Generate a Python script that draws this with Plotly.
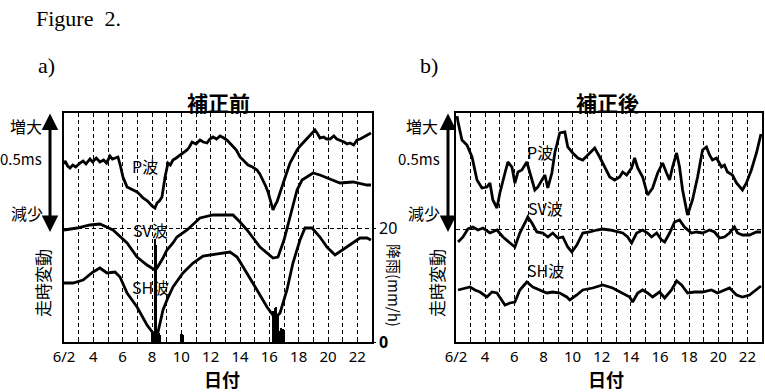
import plotly.graph_objects as go

# ---------------- data (days in June, relative travel-time change; rainfall mm/h) -------------
# Panel a) 補正前
pa_day = [2.0, 2.07, 2.25, 2.41, 2.6, 2.8, 3.09, 3.3, 3.5, 3.77, 3.95, 4.2, 4.45, 4.7, 4.9, 5.14, 5.3,
          5.48, 5.68, 5.85, 6.02, 6.3, 6.6, 6.98, 7.2, 7.39, 7.7, 8.0, 8.2, 8.34, 8.5, 8.68, 8.89,
          9.09, 9.25, 9.43, 9.65, 9.91, 10.15, 10.39, 10.55, 10.73, 11.0, 11.27, 11.5, 11.75, 11.95,
          12.16, 12.4, 12.64, 12.9, 13.11, 13.3, 13.52, 13.75, 14.0, 14.3, 14.55, 14.85, 15.16, 15.35,
          15.57, 15.75, 15.91, 16.1, 16.25, 16.4, 16.52, 16.7, 16.93, 17.2, 17.41, 17.65, 17.89, 18.1,
          18.3, 18.55, 18.77, 18.95, 19.11, 19.3, 19.45, 19.7, 19.9, 20.14, 20.4, 20.6, 20.82, 21.1,
          21.3, 21.5, 21.75, 21.98, 22.2, 22.45, 22.66, 22.93]
pa_val = [178, 181, 176, 174, 177, 175, 179, 181, 178, 183, 180, 184, 180, 182, 179, 186, 183,
          184, 185, 176, 165, 155, 153, 150, 147, 144, 141, 136, 134, 139, 141, 145, 165,
          179, 177, 182, 184, 187, 189, 192, 195, 200, 198, 202, 200, 199, 203,
          205, 203, 206, 204, 202, 199, 195, 192, 185, 181, 177, 175, 172, 168,
          162, 156, 150, 141, 132, 137, 140, 148, 159, 170, 179, 186, 192, 196,
          199, 203, 207, 209, 212, 208, 204, 205, 203, 203, 206, 203, 202, 200,
          198, 199, 197, 202, 203, 205, 207, 209]

sva_day = [2.0, 2.89, 3.77, 4.45, 5.34, 5.82, 6.3, 6.98, 7.66, 8.2, 8.34, 8.75, 9.02, 9.43, 9.7,
           10.39, 11.27, 12.16, 13.52, 14.0, 14.48, 15.36, 16.25, 16.59, 17.0, 17.41, 17.89, 18.23,
           18.57, 18.98, 19.45, 19.93, 20.82, 21.7, 22.66, 22.93]
sva_val = [112, 114, 117, 118, 112, 105, 99, 85, 77, 72, 74, 84, 92, 99, 105,
           112, 124, 127, 127, 120, 112, 95, 84, 85, 102, 125, 152, 162,
           165, 169, 167, 164, 159, 160, 157, 157]

sha_day = [2.0, 2.61, 3.3, 3.98, 4.45, 4.93, 5.48, 5.82, 6.3, 6.98, 7.66, 8.07, 8.41, 8.75, 9.02,
           9.43, 10.11, 10.8, 11.48, 12.43, 13.32, 13.8, 14.48, 15.16, 15.84, 16.39, 16.73, 17.2,
           17.61, 18.09, 18.43, 18.91, 19.45, 19.93, 20.48, 21.3, 22.18, 22.66, 22.93]
sha_val = [59, 59, 62, 70, 74, 69, 70, 65, 49, 35, 17, 9, 10, 32, 42,
           55, 69, 79, 86, 88, 90, 85, 69, 52, 35, 24, 29, 52,
           79, 102, 114, 114, 105, 95, 87, 95, 104, 104, 102]

rain_day = [8.04, 8.125, 8.21, 8.29, 8.375, 8.46, 8.54,
            9.96, 10.04, 10.125,
            16.29, 16.375, 16.46, 16.54, 16.625, 16.71, 16.79, 16.875, 16.96, 17.04]
rain_val = [1.5, 1.6, 18.0, 17.0, 1.6, 1.5, 1.2,
            1.4, 1.4, 1.2,
            5.5, 6.0, 6.2, 5.0, 4.5, 2.0, 2.4, 2.3, 2.3, 1.8]

# Panel b) 補正後
pb_day = [2.07, 2.14, 2.41, 2.75, 3.1, 3.44, 3.78, 4.12, 4.33, 4.53, 4.81, 5.01, 5.36, 5.56, 5.84,
          6.04, 6.25, 6.52, 6.86, 7.07, 7.41, 7.62, 7.89, 8.1, 8.3, 8.58, 8.78, 9.12, 9.47, 9.67,
          10.01, 10.36, 10.7, 11.04, 11.52, 11.86, 12.21, 12.55, 12.89, 13.23, 13.44, 13.71, 14.05,
          14.26, 14.47, 14.81, 15.15, 15.49, 15.84, 16.18, 16.45, 16.66, 16.86, 17.14, 17.34, 17.55,
          17.89, 18.23, 18.58, 18.92, 19.19, 19.4, 19.6, 19.88, 20.22, 20.42, 20.63, 20.97, 21.25,
          21.45, 21.66, 21.93, 22.27, 22.62, 22.93]
pb_val = [226, 220, 202, 197, 185, 162, 154, 155, 159, 142, 134, 149, 169, 180, 175,
          159, 170, 172, 180, 169, 152, 155, 162, 167, 154, 169, 189, 209, 210, 195,
          189, 184, 182, 187, 194, 185, 175, 165, 162, 165, 170, 167, 174,
          184, 174, 165, 147, 154, 169, 179, 169, 162, 175, 189, 175, 152,
          127, 142, 165, 192, 195, 187, 182, 184, 175, 177, 170, 167, 159,
          155, 152, 159, 172, 189, 208]

svb_day = [2.14, 2.48, 2.82, 3.16, 3.51, 3.85, 4.33, 4.81, 5.22, 5.7, 6.04, 6.38, 6.73, 6.93, 7.21,
           7.55, 7.96, 8.3, 8.64, 8.99, 9.33, 9.67, 9.95, 10.29, 10.7, 11.18, 11.66, 12.07, 12.55,
           13.03, 13.44, 13.78, 14.05, 14.4, 14.81, 15.15, 15.42, 15.77, 16.11, 16.32, 16.66, 17.0,
           17.34, 17.68, 18.16, 18.51, 18.92, 19.4, 19.74, 20.08, 20.42, 20.77, 21.11, 21.32, 21.66,
           22.14, 22.62, 22.93]
svb_val = [100, 105, 113, 115, 112, 114, 109, 112, 105, 99, 95, 109, 119, 125, 119,
           110, 109, 105, 109, 104, 105, 95, 90, 97, 109, 110, 112, 113, 112,
           110, 109, 105, 99, 109, 112, 109, 105, 109, 102, 100, 109, 120,
           122, 115, 109, 110, 109, 112, 110, 104, 105, 109, 115, 109, 107,
           107, 110, 110]

shb_day = [2.14, 2.96, 3.3, 3.64, 4.12, 4.47, 4.81, 5.36, 5.7, 6.04, 6.38, 6.86, 7.27, 7.75, 8.23,
           8.64, 9.12, 9.6, 9.81, 10.29, 10.7, 11.38, 12.07, 12.75, 13.44, 13.92, 14.12, 14.47,
           14.81, 15.15, 15.49, 15.97, 16.32, 16.79, 17.14, 17.48, 17.89, 18.37, 18.92, 19.53,
           19.95, 20.42, 20.77, 21.25, 21.66, 22.14, 22.62, 22.93]
shb_val = [52, 55, 52, 50, 45, 50, 49, 37, 39, 40, 52, 60, 55, 52, 49,
           50, 49, 45, 42, 47, 52, 54, 57, 54, 49, 45, 40, 49,
           52, 49, 45, 50, 44, 52, 61, 57, 49, 50, 50, 52,
           49, 52, 54, 47, 45, 47, 52, 56]

tick_days = [2, 4, 6, 8, 10, 12, 14, 16, 18, 20, 22]
tick_text = ["6/2", "4", "6", "8", "10", "12", "14", "16", "18", "20", "22"]
rain_ticks = [0, 20]
rain_ticktext = ["<b>0</b>", "20"]

# ---------------- figure ----------------
W, H = 765, 392
def px(x):
    return x / W
def py(y):
    return 1 - y / H

JP = "Noto Sans CJK JP"
LINE = dict(color="black", width=2.8)

fig = go.Figure()
fig.add_trace(go.Bar(x=rain_day, y=rain_val, width=[1 / 12] * len(rain_day), marker=dict(color="black", line=dict(width=0)),
                     xaxis="x", yaxis="y2"))
fig.add_trace(go.Scatter(x=pa_day, y=pa_val, mode="lines", line=LINE, xaxis="x", yaxis="y"))
fig.add_trace(go.Scatter(x=sva_day, y=sva_val, mode="lines", line=LINE, xaxis="x", yaxis="y"))
fig.add_trace(go.Scatter(x=sha_day, y=sha_val, mode="lines", line=LINE, xaxis="x", yaxis="y"))
fig.add_trace(go.Scatter(x=pb_day, y=pb_val, mode="lines", line=LINE, xaxis="x2", yaxis="y3"))
fig.add_trace(go.Scatter(x=svb_day, y=svb_val, mode="lines", line=LINE, xaxis="x2", yaxis="y3"))
fig.add_trace(go.Scatter(x=shb_day, y=shb_val, mode="lines", line=LINE, xaxis="x2", yaxis="y3"))

GRIDDASH = "4px,3px"
def xaxis(domain, anchor):
    return dict(domain=domain, anchor=anchor, range=[2, 23], tickvals=tick_days, ticktext=tick_text,
                showgrid=True, gridcolor="black", gridwidth=1, griddash=GRIDDASH,
                ticks="inside", ticklen=3, tickcolor="black",
                minor=dict(dtick=1, tick0=2, showgrid=True, gridcolor="black", gridwidth=1, griddash=GRIDDASH,
                           ticks="inside", ticklen=3, tickcolor="black"),
                showline=True, linecolor="black", linewidth=1.6, mirror=True, zeroline=False,
                tickfont=dict(family="Noto Sans", size=15, color="black"), automargin=False)

ydom = [(H - 342) / H, (H - 113) / H]
fig.update_layout(
    width=W, height=H, margin=dict(l=0, r=0, t=0, b=0, autoexpand=False),
    paper_bgcolor="white", plot_bgcolor="white", showlegend=False, bargap=0,
    xaxis=xaxis([px(64), px(372)], "y"),
    xaxis2=xaxis([px(456), px(762)], "y3"),
    yaxis=dict(domain=ydom, anchor="x", range=[0, 229], showticklabels=False, showgrid=False, zeroline=False,
               showline=True, linecolor="black", linewidth=1.6, mirror=True, ticks="", automargin=False),
    yaxis2=dict(overlaying="y", side="right", anchor="x", range=[0, 40.2], tickvals=rain_ticks, ticktext=rain_ticktext,
                showgrid=True, gridcolor="black", gridwidth=1, griddash=GRIDDASH, zeroline=False,
                showline=True, linecolor="black", linewidth=1.6, ticks="outside", ticklen=2, tickcolor="black",
                tickfont=dict(family="Noto Sans", size=16, color="black"), automargin=False),
    yaxis3=dict(domain=ydom, anchor="x2", range=[0, 229], tickvals=[113], showticklabels=False, ticks="",
                showgrid=True, gridcolor="black", gridwidth=1, griddash=GRIDDASH, zeroline=False,
                showline=True, linecolor="black", linewidth=1.6, mirror=True, automargin=False),
)

def txt(x, y, s, size=16, angle=0, family=JP, xanchor="center", pad=1):
    fig.add_annotation(x=px(x), y=py(y), xref="paper", yref="paper", text=s, showarrow=False,
                       textangle=angle, xanchor=xanchor, yanchor="middle", borderpad=pad,
                       font=dict(family=family, size=size, color="black"))

SERIF = "Liberation Serif"
txt(34, 19, "Figure\u00a0\u00a02.", size=22, family=SERIF, xanchor="left")
txt(36, 65, "a)", size=22, family=SERIF, xanchor="left")
txt(418, 65, "b)", size=22, family=SERIF, xanchor="left")

# panel titles and x titles
txt(218, 102, "<b>補正前</b>", size=21)
txt(607, 102, "<b>補正後</b>", size=21)
txt(222, 379, "<b>日付</b>", size=18, pad=0)
txt(606, 379, "<b>日付</b>", size=18, pad=0)

# wave labels
txt(145, 166, "P波", size=16)
txt(150, 230, "SV波", size=16)
txt(150, 287, "SH波", size=16)
txt(540, 152, "P波", size=16)
txt(545, 208, "SV波", size=16)
txt(545, 270, "SH波", size=16)

# left-side scale labels
for (xa, xb, xc, xd, xarr) in [(26, 21, 27, 42, 50), (422, 419, 424, 436, 448)]:
    txt(xa, 126, "増大", size=16)
    txt(xb, 158, "0.5ms", size=15)
    txt(xc, 213, "減少", size=16)
    txt(xd, 283, "走時変動", size=17, angle=-90)
    fig.add_annotation(x=px(xarr), y=py(232), xref="paper", yref="paper", ax=0, ay=-120,
                       axref="pixel", ayref="pixel", showarrow=True, arrowhead=2, arrowsize=1.1,
                       arrowwidth=3, arrowcolor="black", arrowside="end+start", text="")

# right rain axis title
txt(395, 285, "降雨(mm/h)", size=15, angle=90)

fig.write_html("out.html", config={"displayModeBar": False},
               post_script="document.body.style.margin='0';document.body.style.overflow='hidden';")
